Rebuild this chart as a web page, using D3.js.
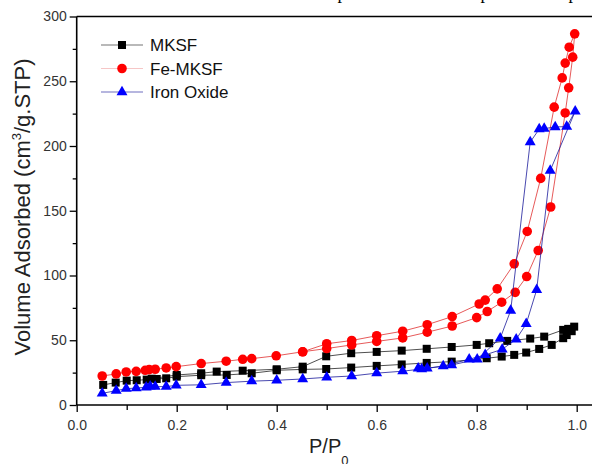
<!DOCTYPE html>
<html>
<head>
<meta charset="utf-8">
<script src="https://cdn.jsdelivr.net/npm/d3@7"></script>
<style>
  body { margin: 0; background: #fff; }
  text { font-family: "Liberation Sans", Arial, sans-serif; }
</style>
</head>
<body>
<div id="chart"></div>
<script>
// isotherm data, [P/P0, volume] in measuring order
var mksfAds = [[0.053,15.5],[0.078,17.3],[0.1,18.8],[0.12,19.1],[0.14,19.6],[0.16,20.1],[0.179,20.6],[0.2,21.9],[0.249,23],[0.3,23.2],[0.35,24.5],[0.4,26.8],[0.452,27.5],[0.499,27.8],[0.549,28.9],[0.6,30.2],[0.65,31.3],[0.7,32.5],[0.75,33.5],[0.82,36.1],[0.85,37.4],[0.875,38.7],[0.899,40.5],[0.925,43.3],[0.95,46.4],[0.973,51.6],[0.98,54],[0.99,57]];
var mksfDes = [[0.995,60.5],[0.983,58.8],[0.973,58],[0.935,52.8],[0.907,51.3],[0.861,49.5],[0.825,47.7],[0.8,46.4],[0.75,44.8],[0.7,43.4],[0.65,42],[0.6,41],[0.549,40],[0.499,37.6],[0.452,29.6],[0.4,27.6],[0.332,26.5],[0.28,25.8],[0.249,24.5],[0.2,23.2],[0.15,20.3]];

var feAds = [[0.051,22.4],[0.079,24],[0.099,25.5],[0.119,26],[0.137,26.8],[0.145,27.3],[0.157,27.6],[0.179,28.6],[0.199,29.6],[0.249,32],[0.299,33.8],[0.332,35.3],[0.35,35.8],[0.399,38],[0.452,41.1],[0.5,43.6],[0.55,46.4],[0.6,49.1],[0.652,51.8],[0.701,56.2],[0.751,61],[0.8,67.5],[0.821,72.2],[0.85,79.4],[0.877,87],[0.9,99.2],[0.923,119.3],[0.948,152.9],[0.977,225.5],[0.984,244.9],[0.992,268.6]];
var feDes = [[0.996,286.6],[0.985,276.3],[0.977,264],[0.971,252.6],[0.955,230],[0.928,175],[0.901,134],[0.875,109],[0.841,89.7],[0.817,81],[0.805,78],[0.751,68.3],[0.701,62],[0.652,57],[0.6,53.5],[0.55,49.8],[0.5,47.3],[0.452,41.1]];

var ironAds = [[0.051,9],[0.079,11.1],[0.099,12.6],[0.119,13.1],[0.139,13.7],[0.147,14.4],[0.157,14.2],[0.179,14.2],[0.199,15.2],[0.249,15.6],[0.299,17.3],[0.35,18.4],[0.4,19.1],[0.452,20.1],[0.5,21.4],[0.55,22.4],[0.6,24.6],[0.652,26.1],[0.69,27.8],[0.733,30.1],[0.785,35.3],[0.817,38.7],[0.851,43],[0.879,50.8],[0.899,62.6],[0.92,89],[0.947,181],[0.997,226.8]];
var ironDes = [[0.98,215],[0.957,214.7],[0.935,213.4],[0.925,213],[0.907,203],[0.868,73],[0.847,51.5],[0.801,35.3],[0.75,30.9],[0.701,28.3],[0.683,28.3]];

var seriesNames = ["MKSF", "Fe-MKSF", "Iron Oxide"];
var xTickValues = [0, 0.2, 0.4, 0.6, 0.8, 1.0];
var yTickValues = [0, 50, 100, 150, 200, 250, 300];

var svgWidth = 592;
var svgHeight = 464;

var svg = d3.select("#chart")
  .append("svg")
  .attr("width", svgWidth)
  .attr("height", svgHeight);

var x = d3.scaleLinear().domain([0, 1]).range([76.7, 576.7]);
var y = d3.scaleLinear().domain([0, 300]).range([405, 16.5]);

// cut-off text above the frame (only the descenders show)
svg.selectAll(".cut")
  .data([342, 485, 573])
  .enter().append("text")
  .attr("x", d => d).attr("y", -1)
  .attr("text-anchor", "middle")
  .style("font-family", "'Liberation Serif', serif")
  .style("font-size", "18px")
  .text("p");

// series
var series = [
  {name: seriesNames[0], data: mksfAds.concat(mksfDes), color: "#000", line: "#222", shape: "square"},
  {name: seriesNames[1], data: feAds.concat(feDes), color: "#ff0000", line: "#e03030", shape: "circle"},
  {name: seriesNames[2], data: ironAds.concat(ironDes), color: "#0000ff", line: "#1a1a9a", shape: "triangle"}
];

var line = d3.line().x(d => x(d[0])).y(d => y(d[1]));

function drawMarker(g, shape, color) {
  if (shape == "square") {
    g.append("rect").attr("x", -4).attr("y", -4).attr("width", 8).attr("height", 8).attr("fill", color);
  } else if (shape == "circle") {
    g.append("circle").attr("r", 4.8).attr("fill", color);
  } else {
    g.append("path").attr("d", d3.symbol().type(d3.symbolTriangle).size(52)()).attr("fill", color);
  }
}

series.forEach(function(s) {
  svg.append("path")
    .datum(s.data)
    .attr("d", line)
    .attr("fill", "none")
    .attr("stroke", s.line)
    .attr("stroke-width", 0.8);
  svg.selectAll(null)
    .data(s.data)
    .enter().append("g")
    .attr("transform", d => `translate(${x(d[0])},${y(d[1])})`)
    .each(function() { drawMarker(d3.select(this), s.shape, s.color); });
});

// axes
var bottomAxis = d3.axisBottom(x).tickValues(xTickValues).tickFormat(d3.format(".1f")).tickSize(7).tickSizeOuter(0);
var bottomMinor = d3.axisBottom(x).tickValues([0.1, 0.3, 0.5, 0.7, 0.9]).tickFormat("").tickSize(5).tickSizeOuter(0);
var leftAxis = d3.axisLeft(y).tickValues(yTickValues).tickSize(7).tickSizeOuter(0);
var leftMinor = d3.axisLeft(y).tickValues([25, 75, 125, 175, 225, 275]).tickFormat("").tickSize(4).tickSizeOuter(0);

[bottomAxis, bottomMinor].forEach(function(a) {
  svg.append("g").attr("class", "axis xaxis").attr("transform", "translate(0,405)").call(a);
});
[leftAxis, leftMinor].forEach(function(a) {
  svg.append("g").attr("class", "axis").attr("transform", "translate(76.7,0)").call(a);
});
svg.selectAll(".axis .domain").remove();
svg.selectAll(".axis line").attr("stroke", "#000").attr("stroke-width", 1.3);
svg.selectAll(".axis text").attr("fill", "#333").style("font-size", "14px");
svg.selectAll(".xaxis text").attr("dy", "1.05em");

// frame lines
svg.append("line").attr("x1", 76.7).attr("x2", 592).attr("y1", 405).attr("y2", 405).attr("stroke", "#000").attr("stroke-width", 1.6);
svg.append("line").attr("x1", 76.7).attr("x2", 592).attr("y1", 16.5).attr("y2", 16.5).attr("stroke", "#000").attr("stroke-width", 1.6);
svg.append("line").attr("x1", 76.7).attr("x2", 76.7).attr("y1", 16.5).attr("y2", 405).attr("stroke", "#000").attr("stroke-width", 1.6);

// axis titles
var yTitle = svg.append("text")
  .attr("transform", "translate(30,207) rotate(-90)")
  .attr("text-anchor", "middle")
  .style("font-size", "22px")
  .attr("fill", "#222");
yTitle.append("tspan").text("Volume Adsorbed (cm");
yTitle.append("tspan").attr("dy", -9).style("font-size", "13px").text("3");
yTitle.append("tspan").attr("dy", 9).text("/g.STP)");

var xTitle = svg.append("text")
  .attr("x", 309).attr("y", 453)
  .style("font-size", "20px")
  .attr("fill", "#222");
xTitle.append("tspan").text("P/P");
xTitle.append("tspan").attr("dy", 12).style("font-size", "13px").text("0");

// legend
var legend = svg.append("g").attr("transform", "translate(101,45)");
series.forEach(function(s, i) {
  var row = legend.append("g").attr("transform", `translate(0,${i * 23.5})`);
  row.append("line").attr("x1", 0).attr("x2", 42).attr("stroke", s.line).attr("stroke-width", 0.8)
    .attr("stroke-opacity", i == 1 ? 0.35 : 0.8);
  var m = row.append("g").attr("transform", "translate(21,0)");
  drawMarker(m, s.shape, s.color);
  row.append("text").attr("x", 49).attr("y", 6).style("font-size", "17px").attr("fill", "#111").text(s.name);
});
</script>
</body>
</html>
